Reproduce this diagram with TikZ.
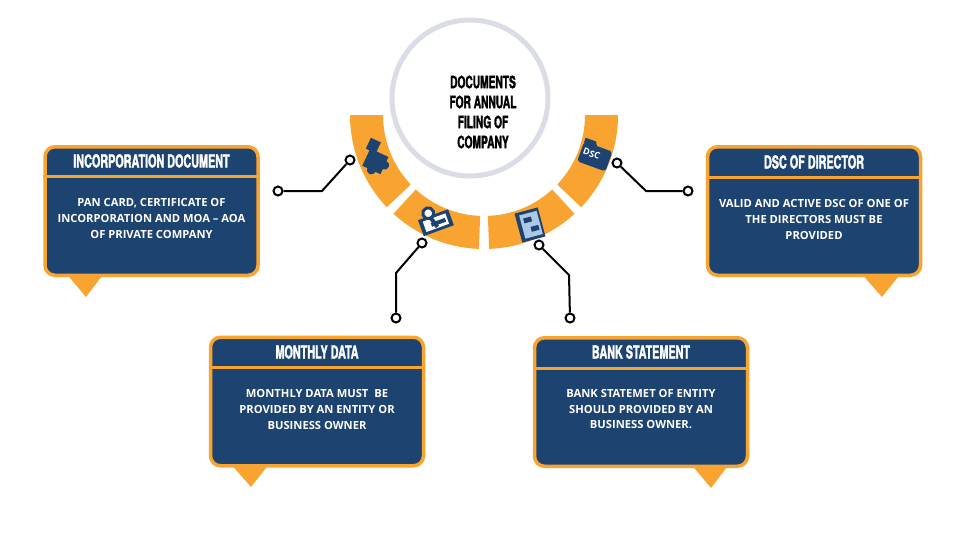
\documentclass[tikz,border=0pt]{standalone}
\usepackage{fontspec}
\setmainfont{Open Sans}
\newfontfamily\headfont{TeX Gyre Heros}[FakeStretch=0.6, FakeBold=1.6]
\usetikzlibrary{positioning}
\definecolor{boxnavy}{HTML}{1D4370}
\definecolor{segorange}{HTML}{F9A430}
\definecolor{ringgray}{HTML}{DADDE6}
\definecolor{pagelight}{HTML}{ADC8E6}
\tikzset{
    infobox/.style = {rectangle, rounded corners=5pt, line width=1.75pt, draw=segorange, fill=boxnavy, minimum width=106.5pt, minimum height=64.25pt},
    boxtitle/.style = {inner sep=0pt, text=white, font=\headfont\bfseries\fontsize{9}{10}\selectfont},
    boxtext/.style = {inner sep=0pt, align=center, text=white, font=\bfseries\fontsize{5.6}{8}\selectfont},
    hubtext/.style = {inner sep=0pt, align=center, text=black, font=\headfont\bfseries\fontsize{8.5}{10}\selectfont},
    boxrule/.style = {line width=1.5pt, segorange},
    pointer/.style = {fill=segorange},
    dotnode/.style = {circle, line width=1pt, draw=black, fill=white, minimum size=4.5pt, inner sep=0pt},
    edgen/.style = {-, line width=1pt, black},
    segfill/.style = {fill=segorange},
    ringline/.style = {line width=2.5pt, ringgray},
    iconb/.style = {fill=boxnavy},
}

\begin{document}
\begin{tikzpicture}[x=0.5pt, y=-0.5pt]
\path[use as bounding box, fill=white] (0,0) rectangle (967,542);

% hub
\draw[ringline] (470,98) circle[radius=78];
\node[hubtext] at (483,112) (hub) {DOCUMENTS\\FOR ANNUAL\\FILING OF\\COMPANY};

\begin{scope}[shift={(484,115)}]
\foreach \a/\b in {180/136.5, 132.5/92.2, 87.8/47.5, 43.5/0} {
    \fill[segfill] (\a:134) arc[start angle=\a, end angle=\b, radius=134] -- (\b:101) arc[start angle=\b, end angle=\a, radius=101] -- cycle;
}
\end{scope}

% icons
\begin{scope}[shift={(376,160)}, rotate=-25]
\fill[iconb] (-10,-8) rectangle (10,11);
\fill[iconb] (0,11) circle[radius=4.5];
\fill[iconb] (10,1) circle[radius=4.5];
\fill[iconb] (-14,-18) rectangle (-3,-6);
\end{scope}
\begin{scope}[shift={(436,220)}, rotate=20]
\fill[iconb] (-17,-6) rectangle (15,11);
\fill[white] (-13,-3) rectangle (11,8);
\fill[iconb] (-6,1) rectangle (9,5);
\draw[boxnavy, line width=2pt] (-4,-3) -- (-1,7);
\draw[boxnavy, line width=1.5pt, fill=white] (-5,-9) circle[radius=5.5];
\end{scope}
\begin{scope}[shift={(530,225)}, rotate=15]
\fill[iconb] (-12,-15) rectangle (12,15);
\fill[pagelight] (-8,-12) rectangle (10,12);
\fill[iconb] (-5,-8) rectangle (3,-3);
\fill[iconb] (0,2) rectangle (8,7);
\end{scope}
\begin{scope}[shift={(595,156)}, rotate=-20]
\fill[iconb, rounded corners=1.5pt] (-15,-10) rectangle (15,11);
\fill[iconb] (-15,-9) -- (-15,-14) -- (-4,-14) -- (-1,-9) -- cycle;
\node[inner sep=0pt, text=white, font=\bfseries\fontsize{4.5}{4.5}\selectfont, rotate=-20] at (-4,-1) (dsclabel) {DSC};
\end{scope}

% connectors
\node[dotnode] at (350,160) (inca) {};
\node[dotnode] at (278,191) (incb) {};
\coordinate (incm) at (322,191);
\node[dotnode] at (422,243) (mona) {};
\node[dotnode] at (396,318) (monb) {};
\coordinate (monm) at (396,273);
\node[dotnode] at (539,245) (banka) {};
\node[dotnode] at (570,318) (bankb) {};
\coordinate (bankm) at (569,275);
\node[dotnode] at (617,163) (dsca) {};
\node[dotnode] at (688,191) (dscb) {};
\coordinate (dscm) at (646,191);
\draw[edgen] (inca) -- (incm) -- (incb);
\draw[edgen] (mona) -- (monm) -- (monb);
\draw[edgen] (banka) -- (bankm) -- (bankb);
\draw[edgen] (dsca) -- (dscm) -- (dscb);

% boxes
\fill[pointer] (65,272) -- (105,272) -- (86,297) -- cycle;
\node[infobox] at (151.5,211) (incbox) {};
\draw[boxrule] ([yshift=-15.5pt]incbox.north west) -- ([yshift=-15.5pt]incbox.north east);
\node[boxtitle] at (151.5,161) (inctitle) {INCORPORATION DOCUMENT};
\node[boxtext] at (151.5,218) (inctext) {PAN CARD, CERTIFICATE OF\\INCORPORATION AND MOA -- AOA\\OF PRIVATE COMPANY};

\fill[pointer] (860,272) -- (902,272) -- (882,297) -- cycle;
\node[infobox] at (814,211) (dscbox) {};
\draw[boxrule] ([yshift=-16pt]dscbox.north west) -- ([yshift=-16pt]dscbox.north east);
\node[boxtitle] at (814,162) (dsctitle) {DSC OF DIRECTOR};
\node[boxtext] at (814,219) (dsctext) {VALID AND ACTIVE DSC OF ONE OF\\THE DIRECTORS MUST BE\\PROVIDED};

\fill[pointer] (230,463) -- (270,463) -- (251,487) -- cycle;
\node[infobox] at (317,401.5) (monbox) {};
\draw[boxrule] ([yshift=-16pt]monbox.north west) -- ([yshift=-16pt]monbox.north east);
\node[boxtitle] at (317,352) (montitle) {MONTHLY DATA};
\node[boxtext] at (317,409) (montext) {MONTHLY DATA MUST\ \ BE\\PROVIDED BY AN ENTITY OR\\BUSINESS OWNER};

\fill[pointer] (690,463) -- (730,463) -- (711,488) -- cycle;
\node[infobox] at (641,402) (bankbox) {};
\draw[boxrule] ([yshift=-16pt]bankbox.north west) -- ([yshift=-16pt]bankbox.north east);
\node[boxtitle] at (641,352) (banktitle) {BANK STATEMENT};
\node[boxtext] at (641,409) (banktext) {BANK STATEMET OF ENTITY\\SHOULD PROVIDED BY AN\\BUSINESS OWNER.};

\end{tikzpicture}
\end{document}
